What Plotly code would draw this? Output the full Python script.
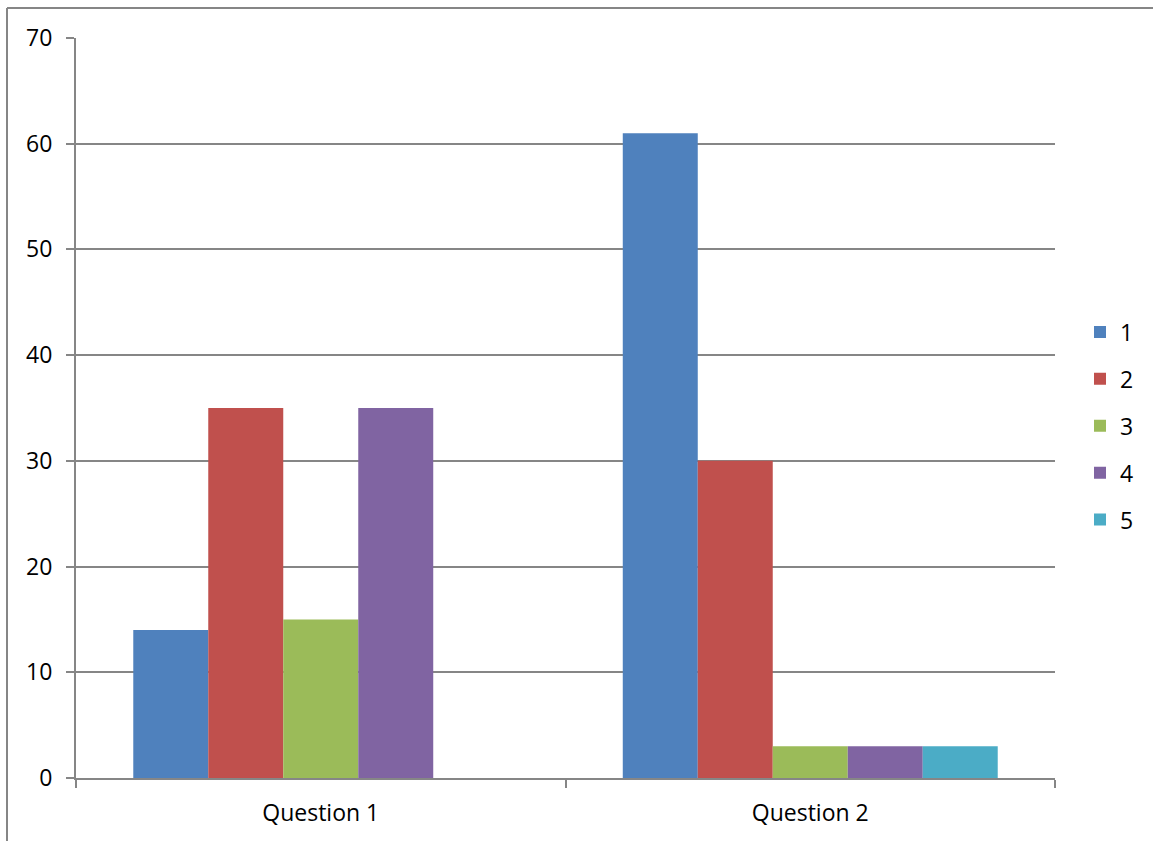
import plotly.graph_objects as go

categories = ["Question 1", "Question 2"]
series_names = ["1", "2", "3", "4", "5"]
values_1 = [14, 61]
values_2 = [35, 30]
values_3 = [15, 3]
values_4 = [35, 3]
values_5 = [0, 3]
colors = ["#4F81BD", "#C0504D", "#9BBB59", "#8064A2", "#4BACC6"]
y_ticks = [0, 10, 20, 30, 40, 50, 60, 70]

all_values = [values_1, values_2, values_3, values_4, values_5]

fig = go.Figure()
for name, vals, col in zip(series_names, all_values, colors):
    fig.add_trace(go.Bar(
        x=categories, y=vals, name=name, legendgroup=name,
        marker=dict(color=col, line=dict(width=0)),
    ))

W, H = 1153, 841
L, R, T, B = 76, 98, 38, 63
pw = W - L - R
ph = H - T - B

grid_col = "#868686"
font_family = "Open Sans, Liberation Sans, Arial, sans-serif"
fs = 23

fig.update_layout(
    width=W, height=H,
    margin=dict(l=L, r=R, t=T, b=B, pad=0, autoexpand=False),
    paper_bgcolor="white", plot_bgcolor="white",
    barmode="group", bargap=0.234, bargroupgap=0,
    font=dict(family=font_family, size=fs, color="#000000"),
    showlegend=True,
    legend=dict(
        x=(1080 - L) / pw, xanchor="left",
        y=(778 - 426) / ph, yanchor="middle",
        font=dict(size=fs), tracegroupgap=14,
        traceorder="grouped", bgcolor="rgba(0,0,0,0)",
        itemwidth=30,
    ),
    xaxis=dict(
        type="category", showline=True, linecolor=grid_col, linewidth=2,
        ticks="outside", tickson="boundaries", ticklen=8, tickcolor=grid_col,
        tickwidth=2, showgrid=False, tickfont=dict(size=fs),
        ticklabelstandoff=13,
    ),
    yaxis=dict(
        range=[0, 70], tickvals=y_ticks, showline=True, linecolor=grid_col,
        linewidth=2, ticks="outside", ticklen=8, tickcolor=grid_col, tickwidth=2,
        showgrid=True, gridcolor=grid_col, gridwidth=1.5, zeroline=False,
        tickfont=dict(size=fs), ticklabelstandoff=9,
    ),
    shapes=[
        dict(type="line", xref="paper", yref="paper",
             x0=(7 - L) / pw, x1=(7 - L) / pw,
             y0=(778 - 8) / ph, y1=(778 - 845) / ph,
             line=dict(color="#868686", width=2)),
        dict(type="line", xref="paper", yref="paper",
             x0=(7 - L) / pw, x1=(1160 - L) / pw,
             y0=(778 - 8) / ph, y1=(778 - 8) / ph,
             line=dict(color="#868686", width=2)),
    ],
)

fig.write_html("out.html")
